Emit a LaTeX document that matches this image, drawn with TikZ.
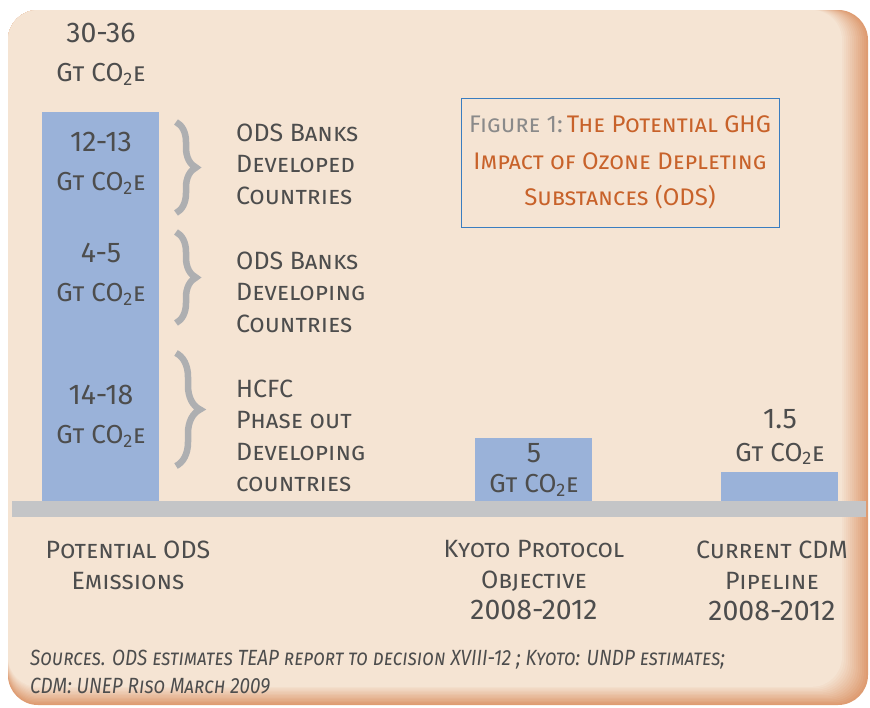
\documentclass[tikz,border=0pt]{standalone}
\usepackage{fontspec}
\setmainfont{Fira Sans}
\usetikzlibrary{positioning, decorations.pathreplacing}

\definecolor{peach}{HTML}{F5E4D3}
\definecolor{rim}{HTML}{DE9C72}
\definecolor{barblue}{HTML}{9AB2D9}
\definecolor{ground}{HTML}{C4C5C7}
\definecolor{bracegray}{HTML}{AEAFB1}
\definecolor{ink}{HTML}{4D4D4D}
\definecolor{titleorange}{HTML}{C8622A}
\definecolor{figgray}{HTML}{8A8A8A}
\definecolor{titleblue}{HTML}{3A7DC0}

\newcommand{\gtco}{G\textsc{t} CO\textsubscript{2}\textsc{e}}
\newcommand{\numtext}[1]{{\fontsize{28.5}{39}\selectfont #1}}

\begin{document}
\begin{tikzpicture}[x=1pt, y=-1pt,
            % Styles
            bar/.style={fill=barblue, inner sep=0pt, minimum width=117pt, anchor=south west},
            valtext/.style={text=ink, font=\fontsize{26}{39}\selectfont\scshape, align=center},
            grouptag/.style={text=ink, font=\fontsize{25}{31.5}\selectfont\scshape, align=left, anchor=west, inner sep=0pt},
            axislabel/.style={text=ink, font=\fontsize{25}{31}\selectfont\scshape, align=center},
            bracket/.style={draw=bracegray, line width=6.5pt, decorate, decoration={brace, amplitude=#1}},
            bracket/.default=20pt
        ]
        \useasboundingbox (0,0) rectangle (870,707);

        % Panel with shaded rim
        \foreach \i in {0,...,13} {
            \pgfmathsetmacro{\mix}{\i*100/13}
            \fill[peach!\mix!rim, rounded corners=30pt] (8,10) rectangle (868-2*\i, 705-1.4*\i);
        }

        % Bars
        \node [bar, minimum height=389pt] (ods) at (42,501) {};
        \node [bar, minimum height=63pt] (kyoto) at (475,501) {};
        \node [bar, minimum height=29pt] (cdm) at (721,501) {};
        \fill[ground] (12,501) rectangle (866,517);

        % Values
        \node [valtext] (total) at (101,54) {\numtext{30-36}\\\gtco};
        \node [valtext] (banksdev) at (101,163) {\numtext{12-13}\\\gtco};
        \node [valtext] (banksdvg) at (101,274) {\numtext{4-5}\\\gtco};
        \node [valtext] (hcfcval) at (101,416) {\numtext{14-18}\\\gtco};
        \node [valtext, font=\fontsize{26}{30}\selectfont\scshape] (kyotoval) at (534,470) {\numtext{5}\\\gtco};
        \node [valtext, font=\fontsize{26}{33}\selectfont\scshape] (cdmval) at (780,437) {\numtext{1.5}\\\gtco};

        % Braces and group labels
        \draw [bracket] (176,122) -- (176,213);
        \draw [bracket] (176,232) -- (176,323);
        \draw [bracket=24pt] (176,353) -- (176,466);
        \node [grouptag] (devtag) at (236,164) {ODS Banks\\Developed\\Countries};
        \node [grouptag] (dvgtag) at (236,292) {ODS Banks\\Developing\\Countries};
        \node [grouptag] (hcfctag) at (236,436) {HCFC\\Phase out\\Developing\\countries};

        % Captions
        \node [axislabel] (odscap) at (128,565) {Potential ODS\\Emissions};
        \node [axislabel] (kyotocap) at (534,580) {Kyoto Protocol\\Objective\\\numtext{2008-2012}};
        \node [axislabel] (cdmcap) at (772,581) {Current CDM\\Pipeline\\\numtext{2008-2012}};

        % Title
        \node [draw=titleblue, line width=1pt, minimum width=318pt, minimum height=129pt, text=titleorange,
               font=\fontsize{24}{36.5}\selectfont\scshape, align=center] (title) at (620,162.5)
              {{\color{figgray}Figure 1:}\,The Potential GHG\\Impact of Ozone Depleting\\Substances (ODS)};

        % Sources
        \node [anchor=west, text=ink, font=\fontsize{22}{28}\selectfont\itshape\scshape, align=left,
               xscale=0.86, transform shape, inner sep=0pt] (sources) at (30,672)
              {Sources. ODS estimates TEAP report to decision XVIII-12 ; Kyoto: UNDP estimates;\\CDM: UNEP Riso March 2009};

    \end{tikzpicture}
\end{document}
